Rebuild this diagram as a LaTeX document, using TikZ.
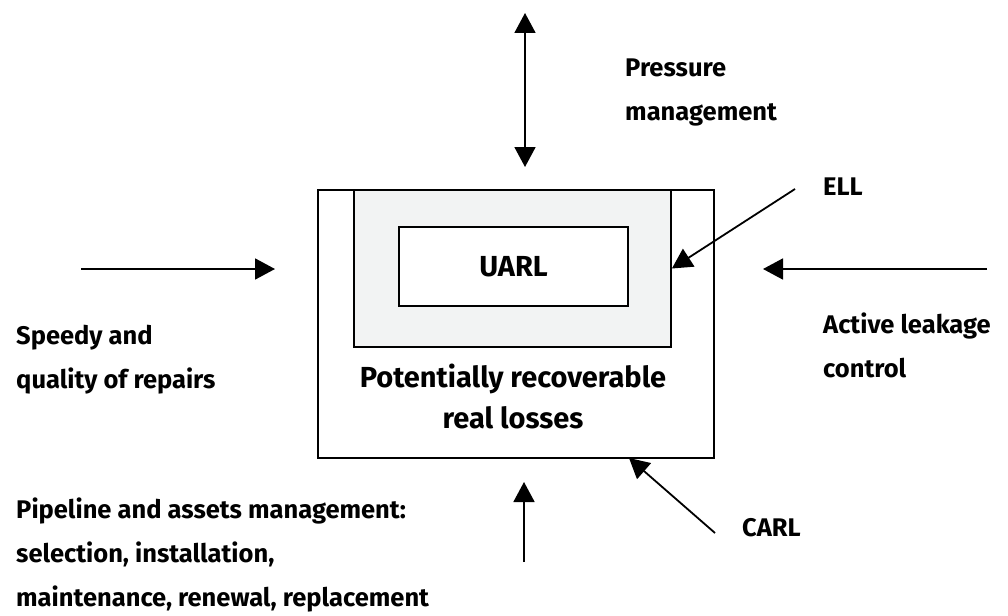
\documentclass[tikz,border=0pt]{standalone}
\usepackage{fontspec}
\setmainfont{Fira Sans}
\usetikzlibrary{arrows.meta,positioning}
\definecolor{ellgray}{RGB}{242,243,243}
\tikzset{
  box/.style={draw=black,line width=1.8pt,inner sep=0pt},
  flow/.style={line width=1.8pt,-{Triangle[length=20pt,width=21pt]}},
  both/.style={line width=1.8pt,{Triangle[length=20pt,width=21pt]}-{Triangle[length=20pt,width=21pt]}},
  lbl/.style={anchor=west,align=left,inner sep=0pt,font=\bfseries\fontsize{25.5}{44}\selectfont},
  inlbl/.style={align=center,inner sep=0pt,font=\bfseries\fontsize{29}{41}\selectfont}
}
\begin{document}
\begin{tikzpicture}[x=1pt,y=-1pt]
  \useasboundingbox (0,0) rectangle (1008,615);

  \node[box,minimum width=396pt,minimum height=268pt] (outer) at (516,324) {};
  \node[box,fill=ellgray,minimum width=317pt,minimum height=157pt] (ell) at (512.5,268.5) {};
  \node[box,fill=white,minimum width=229pt,minimum height=79pt] (uarl) at (513.5,266.5) {};
  \node[inlbl] (uarltxt) at (uarl) {UARL};
  \node[inlbl] (prl) at (513,396) {Potentially recoverable\\real losses};

  \coordinate (pmtop) at (525,13);
  \coordinate (pmbot) at (525,167);
  \coordinate (sqstart) at (81,269);
  \coordinate (sqend) at (275,269);
  \coordinate (alstart) at (987,269);
  \coordinate (alend) at (763,269);
  \coordinate (ellstart) at (795,189);
  \coordinate (carlstart) at (715,533);
  \coordinate (carlend) at (629,458);
  \coordinate (pastart) at (524,562);
  \coordinate (paend) at (524,482);

  \draw[both] (pmtop) -- (pmbot);
  \draw[flow] (sqstart) -- (sqend);
  \draw[flow] (alstart) -- (alend);
  \draw[flow] (ellstart) -- (ell.east);
  \draw[flow] (carlstart) -- (carlend);
  \draw[flow] (pastart) -- (paend);

  \node[lbl] (pm) at (625,92.5) {Pressure\\management};
  \node[lbl] (elltxt) at (823,187) {ELL};
  \node[lbl] (al) at (823,345.5) {Active leakage\\control};
  \node[lbl] (sq) at (16,359.5) {Speedy and\\quality of repairs};
  \node[lbl] (carl) at (742,528) {CARL};
  \node[lbl] (pa) at (16,555) {Pipeline and assets management:\\selection, installation,\\maintenance, renewal, replacement};
\end{tikzpicture}
\end{document}
